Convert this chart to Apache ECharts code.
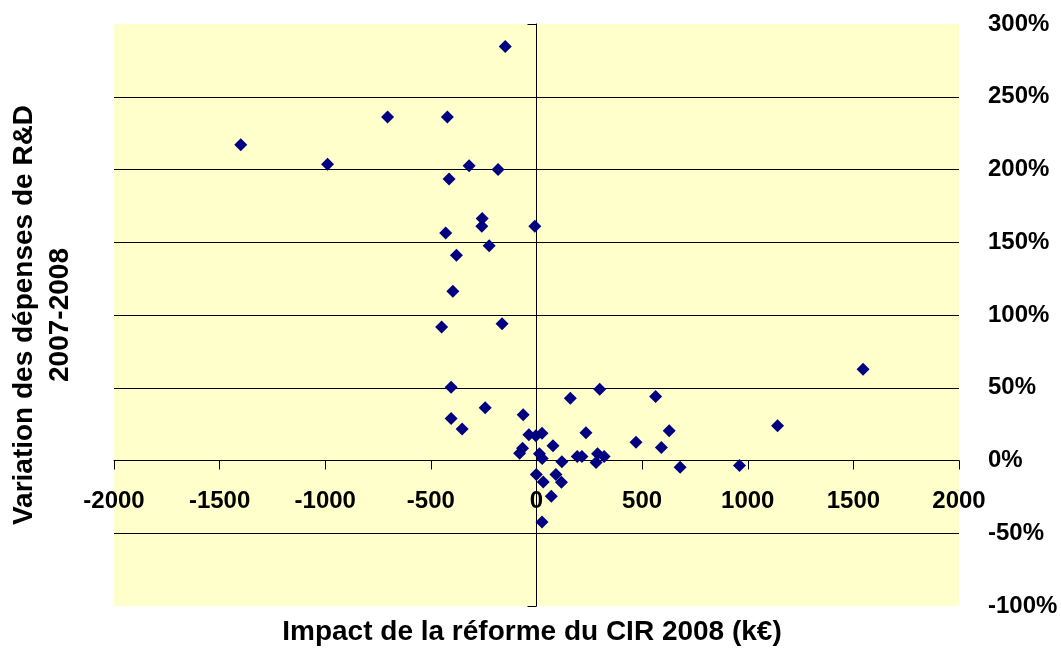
<!DOCTYPE html>
<html>
<head>
<meta charset="utf-8">
<title>CIR 2008</title>
<script src="https://cdn.jsdelivr.net/npm/echarts@6/dist/echarts.min.js"></script>
<style>
  html, body { margin: 0; padding: 0; background: #fff; }
  #chart { width: 1061px; height: 652px; }
</style>
</head>
<body>
<div id="chart"></div>
<script>
// Impact de la réforme du CIR 2008 (k€)
var impactK = [
  -148, -705, -422, -1400, -989, -319, -182, -414, -257, -259,
  -8, -430, -224, -379, -396, -449, -163, -404, 299, 160,
  564, -243, -63, -404, -352, 234, 628, -36, -3, 26,
  78, 471, 591, -66, -80, 14, 27, 193, 215, 289,
  320, 282, 120, 680, -1, 92, 32, 118, 70, 26,
  1546, 1141, 961
];
// Variation des dépenses de R&D 2007-2008 (%)
var variationPct = [
  284.6, 236, 236, 217, 203.6, 202.5, 200, 193.5, 166.4, 161,
  161, 156.3, 147.6, 141, 116.4, 91.8, 94, 50.3, 48.9, 42.7,
  44, 36.3, 31.5, 28.9, 21.6, 19, 20.4, 17.7, 17, 18.8,
  10.1, 12.6, 9, 8.5, 5, 4.6, 1.4, 2.8, 2.8, 4.6,
  2.8, -1.4, -0.9, -4.6, -9.6, -9.6, -14.7, -14.9, -24.6, -42.2,
  62.7, 23.9, -3.4
];
var xTicks = [-2000, -1500, -1000, -500, 0, 500, 1000, 1500, 2000];
var yTicks = [-100, -50, 0, 50, 100, 150, 200, 250, 300];

var points = impactK.map(function (x, i) { return [x, variationPct[i]]; });
var font = "'Liberation Sans', Arial, sans-serif";

var gridTop = 24, gridBottom = 46, chartH = 652;
var yMin = yTicks[0], yMax = yTicks[yTicks.length - 1];
// lift the x axis from the grid bottom up to the 0% level
var zeroOffset = -(chartH - gridTop - gridBottom) * (0 - yMin) / (yMax - yMin);

var chart = echarts.init(document.getElementById('chart'));
var option = {
  animation: false,
  grid: {
    left: 114,
    right: 102,
    top: gridTop,
    bottom: gridBottom,
    show: true,
    backgroundColor: '#FFFFCC',
    borderWidth: 0
  },
  xAxis: {
    type: 'value',
    min: xTicks[0],
    max: xTicks[xTicks.length - 1],
    interval: 500,
    offset: zeroOffset,
    axisLine: { show: true, onZero: false, lineStyle: { color: '#000', width: 1 } },
    axisTick: { show: true, length: 9, lineStyle: { color: '#000' } },
    axisLabel: {
      margin: 29,
      color: '#000',
      fontFamily: font,
      fontWeight: 'bold',
      fontSize: 24,
      formatter: function (v) { return String(v); }
    },
    splitLine: { show: false }
  },
  yAxis: [
    {
      type: 'value',
      position: 'right',
      min: yMin,
      max: yMax,
      interval: 50,
      axisLine: { show: false, onZero: false },
      axisTick: { show: false },
      axisLabel: {
        margin: 29,
        formatter: '{value}%',
        color: '#000',
        fontFamily: font,
        fontWeight: 'bold',
        fontSize: 24
      },
      splitLine: {
        show: true,
        showMinLine: false,
        showMaxLine: false,
        lineStyle: { color: '#000', width: 1 }
      }
    },
    {
      type: 'value',
      position: 'left',
      min: yMin,
      max: yMax,
      interval: 50,
      axisLine: { show: true, onZero: true, onZeroAxisIndex: 0, lineStyle: { color: '#000', width: 1 } },
      axisTick: { show: true, length: 9, lineStyle: { color: '#000' } },
      axisLabel: { show: false },
      splitLine: { show: false }
    }
  ],
  graphic: [
    {
      type: 'text',
      x: 532,
      y: 632,
      style: {
        text: 'Impact de la réforme du CIR 2008 (k€)',
        font: 'bold 28px ' + font,
        fill: '#000',
        align: 'center',
        verticalAlign: 'middle'
      }
    },
    {
      type: 'text',
      x: 42,
      y: 315,
      rotation: Math.PI / 2,
      style: {
        text: 'Variation des dépenses de R&D\n2007-2008',
        font: 'bold 28px ' + font,
        lineHeight: 36,
        fill: '#000',
        align: 'center',
        verticalAlign: 'middle'
      }
    }
  ],
  series: [
    {
      type: 'scatter',
      yAxisIndex: 0,
      symbol: 'diamond',
      symbolSize: 13,
      itemStyle: { color: '#000080', opacity: 1 },
      data: points
    }
  ]
};
chart.setOption(option);
window.addEventListener('resize', function () { chart.resize(); });
</script>
</body>
</html>
